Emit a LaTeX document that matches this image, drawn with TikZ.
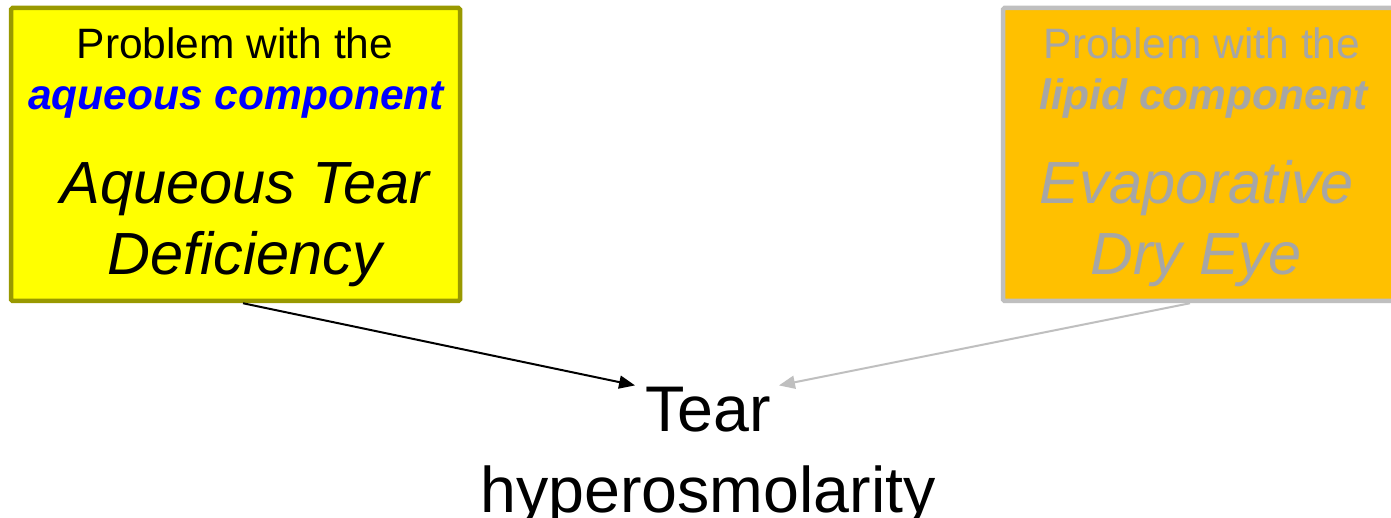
\documentclass[tikz,border=0pt]{standalone}
\usepackage{fontspec}
\setmainfont{Liberation Sans}
\usetikzlibrary{arrows.meta}
\definecolor{boxyellow}{HTML}{FFFF00}
\definecolor{boxolive}{HTML}{999900}
\definecolor{boxorange}{HTML}{FFC000}
\definecolor{edgegray}{HTML}{BFBFBF}
\definecolor{fadedtext}{HTML}{A6A6A6}
\definecolor{pureblue}{HTML}{0000FF}
\tikzset{
  causebox/.style={draw, line width=4.5pt, rounded corners=1.5pt, inner sep=0pt},
  smalltxt/.style={anchor=base, inner sep=0pt, font=\fontsize{42.5}{50}\selectfont},
  bigtxt/.style={anchor=base, inner sep=0pt, font=\fontsize{59.5}{70}\selectfont\itshape},
  resulttxt/.style={anchor=base, inner sep=0pt, font=\fontsize{64.5}{76}\selectfont},
  causearrow/.style={line width=2pt, -{Triangle[length=16pt,width=13pt]}}
}
\begin{document}
\begin{tikzpicture}[x=1pt, y=-1pt]
  \clip (0,0) rectangle (1391,518);
  \fill[white] (0,0) rectangle (1391,518);

  % aqueous-deficient branch
  \node[causebox, boxolive, fill=boxyellow, minimum width=449pt, minimum height=293pt]
    (aq) at (235.5,154.5) {};
  \node[smalltxt] (aqprob) at (235,59) {Problem with the};
  \node[smalltxt, font=\fontsize{42.5}{50}\selectfont\bfseries\itshape, text=pureblue]
    (aqcomp) at (236,110) {aqueous component};
  \node[bigtxt] (aqname1) at (245,204) {Aqueous Tear};
  \node[bigtxt] (aqname2) at (245,275) {Deficiency};

  % evaporative branch (shown faded)
  \node[causebox, edgegray, fill=boxorange, minimum width=417pt, minimum height=293pt]
    (lip) at (1211.5,154.5) {};
  \node[smalltxt, text=fadedtext] (lipprob) at (1202,59) {Problem with the};
  \node[smalltxt, font=\fontsize{42.5}{50}\selectfont\bfseries\itshape, text=fadedtext]
    (lipcomp) at (1204,110) {lipid component};
  \node[bigtxt, text=fadedtext] (lipname1) at (1197,204) {Evaporative};
  \node[bigtxt, text=fadedtext] (lipname2) at (1196,275) {Dry Eye};

  % common outcome
  \node[resulttxt] (tear) at (708,431) {Tear};
  \node[resulttxt] (hyper) at (708,512) {hyperosmolarity};

  \draw[causearrow, black] ([xshift=7.5pt]aq.south) -- ([xshift=-10pt,yshift=1pt]tear.north west);
  \draw[causearrow, edgegray] ([xshift=-21.5pt]lip.south) -- ([xshift=8pt,yshift=1pt]tear.north east);
\end{tikzpicture}
\end{document}
